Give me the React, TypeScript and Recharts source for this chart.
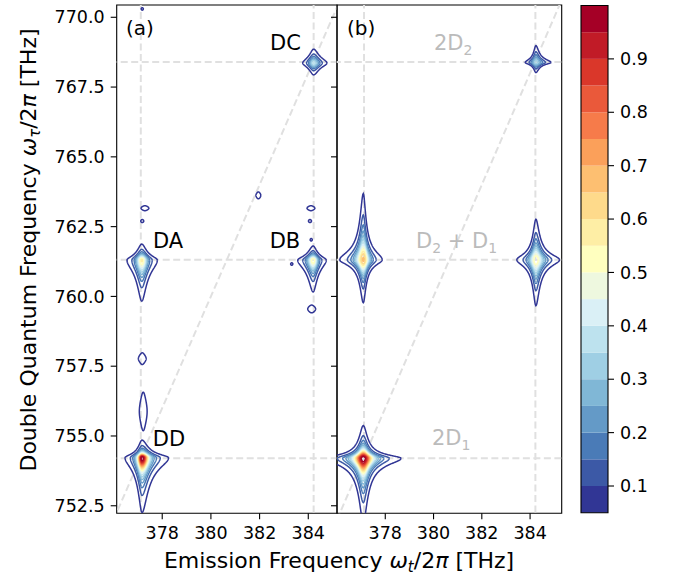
import React from 'react';
import { LineChart, Line, XAxis, YAxis, ReferenceArea } from 'recharts';

// contour levels and their colours (RdYlBu reversed, 19 steps)
const levels = [0.05, 0.1, 0.15, 0.2, 0.25, 0.3, 0.35, 0.4, 0.45, 0.5, 0.55, 0.6, 0.65, 0.7, 0.75, 0.8, 0.85, 0.9, 0.95];
const levelColors = [
  '#313695', '#3c59a6', '#4a7bb7', '#649ac7', '#80b7d6', '#9fcfe4', '#bde2ee', '#daf0f6', '#eef8df', '#ffffbf',
  '#feeea5', '#feda8b', '#fdbf71', '#fba05a', '#f67b4a', '#ea593a', '#da372a', '#c11b27', '#a50026',
];
const cbEdges = [0.05, 0.1, 0.15, 0.2, 0.25, 0.3, 0.35, 0.4, 0.45, 0.5, 0.55, 0.6, 0.65, 0.7, 0.75, 0.8, 0.85, 0.9, 0.95, 1.0];
const cbTicks = [0.1, 0.2, 0.3, 0.4, 0.5, 0.6, 0.7, 0.8, 0.9];

const xTicks = [378, 380, 382, 384];
const yTicks = [752.5, 755, 757.5, 760, 762.5, 765, 767.5, 770];
const xDomainA = [376.13, 385.18];
const xDomainB = [376.0, 385.31];
const yDomain = [752.23, 770.44];

// dashed guides: emission lines, double quantum lines, and y = 2x
const guideX = [377.12, 384.22];
const guideY = [754.2, 761.31, 768.4];
const diagonal = [{ x: 376, y: 752 }, { x: 386, y: 772 }];

type Peak = { x: number; y: number; amp: number; wl: number; wr: number; wd: number; wu: number };

// (a) measured spectrum: centre, height, half widths left / right / down / up
const peaksA: Peak[] = [
  { x: 377.17, y: 754.22, amp: 1.0, wl: 0.16, wr: 0.25, wd: 0.45, wu: 0.145 },   // DD
  { x: 377.16, y: 761.3, amp: 0.56, wl: 0.19, wr: 0.2, wd: 0.46, wu: 0.18 },     // DA
  { x: 384.2, y: 761.3, amp: 0.55, wl: 0.2, wr: 0.17, wd: 0.36, wu: 0.16 },      // DB
  { x: 384.22, y: 768.36, amp: 0.36, wl: 0.18, wr: 0.22, wd: 0.17, wu: 0.2 },    // DC
  { x: 377.18, y: 757.77, amp: 0.1, wl: 0.16, wr: 0.16, wd: 0.21, wu: 0.21 },
  { x: 377.22, y: 755.88, amp: 0.1, wl: 0.16, wr: 0.16, wd: 0.69, wu: 0.69 },
  { x: 377.29, y: 763.16, amp: 0.08, wl: 0.21, wr: 0.21, wd: 0.115, wu: 0.115 },
  { x: 384.11, y: 763.16, amp: 0.08, wl: 0.21, wr: 0.21, wd: 0.115, wu: 0.115 },
  { x: 381.95, y: 763.62, amp: 0.08, wl: 0.13, wr: 0.13, wd: 0.16, wu: 0.16 },
  { x: 384.14, y: 759.55, amp: 0.08, wl: 0.21, wr: 0.21, wd: 0.18, wu: 0.18 },
  { x: 377.18, y: 762.7, amp: 0.06, wl: 0.14, wr: 0.14, wd: 0.12, wu: 0.12 },
  { x: 384.07, y: 762.7, amp: 0.06, wl: 0.14, wr: 0.14, wd: 0.12, wu: 0.12 },
  { x: 384.12, y: 762.03, amp: 0.06, wl: 0.1, wr: 0.1, wd: 0.1, wu: 0.1 },
  { x: 377.18, y: 770.3, amp: 0.06, wl: 0.1, wr: 0.1, wd: 0.1, wu: 0.1 },
  { x: 383.32, y: 761.16, amp: 0.06, wl: 0.1, wr: 0.1, wd: 0.1, wu: 0.1 },
];

// (b) simulated spectrum
const peaksB: Peak[] = [
  { x: 377.09, y: 754.2, amp: 1.0, wl: 0.36, wr: 0.36, wd: 0.53, wu: 0.27 },     // 2D1
  { x: 377.09, y: 761.31, amp: 0.66, wl: 0.28, wr: 0.225, wd: 0.44, wu: 0.68 },  // D2+D1
  { x: 384.24, y: 761.31, amp: 0.55, wl: 0.25, wr: 0.31, wd: 0.52, wu: 0.46 },   // D2+D1
  { x: 384.24, y: 768.38, amp: 0.32, wl: 0.19, wr: 0.27, wd: 0.155, wu: 0.26 },  // 2D2
];

type Pt = { x: number; y: number };

// closed iso-line of a star shaped peak 1/(1+u²+v²+c·u²v²) at a given level
function contour(p: Peak, level: number, c: number): Pt[] | null {
  const k = p.amp / level;
  if (k <= 1.0001) return null;
  const m = Math.sqrt(k - 1);
  const n = 48;
  const q: [number, number][] = [];
  for (let i = 0; i <= n; i++) {
    const a = (m * i) / n;
    const b = Math.sqrt(Math.max((k - 1 - a * a) / (1 + c * a * a), 0));
    q.push([a, b]);
    q.push([b, a]);
  }
  q.sort((s, t) => Math.atan2(s[1], s[0]) - Math.atan2(t[1], t[0]));
  const rq = [...q].reverse();
  const pts: Pt[] = [];
  q.forEach(([u, v]) => pts.push({ x: p.x + u * p.wr, y: p.y + v * p.wu }));
  rq.forEach(([u, v]) => pts.push({ x: p.x - u * p.wl, y: p.y + v * p.wu }));
  q.forEach(([u, v]) => pts.push({ x: p.x - u * p.wl, y: p.y - v * p.wd }));
  rq.forEach(([u, v]) => pts.push({ x: p.x + u * p.wr, y: p.y - v * p.wd }));
  pts.push(pts[0]);
  return pts;
}

const FONT = '"DejaVu Sans", sans-serif';
const GUIDE = '#e0e0e0';
const tickStyle = { fill: '#000', fontSize: 17.5 };

type PanelProps = {
  peaks: Peak[];
  pinch: number;
  xDomain: number[];
  left: number;
  width: number;
  marginLeft: number;
  marginRight: number;
  yAxisWidth: number;
  yLabels: boolean;
};

const Panel = ({ peaks, pinch, xDomain, left, width, marginLeft, marginRight, yAxisWidth, yLabels }: PanelProps) => {
  const lines: React.ReactNode[] = [];
  guideX.forEach((gx, i) =>
    lines.push(
      <Line key={'gx' + i} data={[{ x: gx, y: 750 }, { x: gx, y: 772 }]} dataKey="y" stroke={GUIDE} strokeWidth={2}
        strokeDasharray="7 3.5" dot={false} activeDot={false} isAnimationActive={false} />
    )
  );
  guideY.forEach((gy, i) =>
    lines.push(
      <Line key={'gy' + i} data={[{ x: 375, y: gy }, { x: 386, y: gy }]} dataKey="y" stroke={GUIDE} strokeWidth={2}
        strokeDasharray="7 3.5" dot={false} activeDot={false} isAnimationActive={false} />
    )
  );
  lines.push(
    <Line key="diag" data={diagonal} dataKey="y" stroke={GUIDE} strokeWidth={2}
      strokeDasharray="7 3.5" dot={false} activeDot={false} isAnimationActive={false} />
  );
  levels.forEach((lv, li) =>
    peaks.forEach((p, pi) => {
      const pts = contour(p, lv, pinch);
      if (!pts) return;
      lines.push(
        <Line key={`c${li}-${pi}`} data={pts} dataKey="y" type="linear" stroke={levelColors[li]} strokeWidth={1.5}
          dot={false} activeDot={false} isAnimationActive={false} />
      );
    })
  );

  return (
    <div style={{ position: 'absolute', left, top: 0 }}>
      <LineChart width={width} height={579} margin={{ top: 5, right: marginRight, bottom: 35.7, left: marginLeft }}>
        <XAxis type="number" dataKey="x" domain={xDomain} allowDataOverflow ticks={xTicks} interval={0} height={30}
          axisLine={false} tickSize={6} tickMargin={7} tick={tickStyle} tickLine={{ stroke: '#000', strokeWidth: 1.1 }} />
        <YAxis type="number" domain={yDomain} allowDataOverflow ticks={yTicks} interval={0} width={yAxisWidth}
          axisLine={false} tickSize={6} tickMargin={6} tick={tickStyle} tickLine={{ stroke: '#000', strokeWidth: 1.1 }}
          tickFormatter={(v: number) => (yLabels ? v.toFixed(1) : '')} />
        {lines}
        <ReferenceArea x1={xDomain[0]} x2={xDomain[1]} y1={yDomain[0]} y2={yDomain[1]} fill="none" stroke="#000"
          strokeWidth={1.1} ifOverflow="visible" />
      </LineChart>
    </div>
  );
};

const ColorBar = () => (
  <div style={{ position: 'absolute', left: 575, top: 0 }}>
    <LineChart width={100} height={579} margin={{ top: 5.5, right: 7, bottom: 66.3, left: 6 }}>
      <XAxis type="number" dataKey="x" domain={[0, 1]} hide height={0} />
      <YAxis type="number" orientation="right" domain={[0.05, 1]} ticks={cbTicks} interval={0} width={60}
        axisLine={false} tickSize={6} tickMargin={6} tick={tickStyle} tickLine={{ stroke: '#000', strokeWidth: 1.1 }}
        tickFormatter={(v: number) => v.toFixed(1)} />
      <Line data={[{ x: 0, y: cbEdges[0] }, { x: 1, y: cbEdges[cbEdges.length - 1] }]} dataKey="y" stroke="none"
        dot={false} activeDot={false} isAnimationActive={false} />
      {levelColors.map((c, i) => (
        <ReferenceArea key={i} x1={0} x2={1} y1={cbEdges[i]} y2={cbEdges[i + 1]} fill={c} fillOpacity={1} stroke="none"
          ifOverflow="visible" />
      ))}
      <ReferenceArea x1={0} x2={1} y1={0.05} y2={1} fill="none" stroke="#000" strokeWidth={1.1} ifOverflow="visible" />
    </LineChart>
  </div>
);

const Sub = ({ children, size = 14 }: { children: React.ReactNode; size?: number }) => (
  <tspan fontSize={size} dy={5}>{children}</tspan>
);

const App = () => (
  <div style={{ position: 'absolute', left: 0, top: 0, width: 684, height: 579, background: '#fff', fontFamily: FONT }}>
    <Panel peaks={peaksA} pinch={1.5} xDomain={xDomainA} left={0} width={340} marginLeft={56.7} marginRight={3} yAxisWidth={60} yLabels />
    <Panel peaks={peaksB} pinch={6} xDomain={xDomainB} left={317} width={250} marginLeft={0} marginRight={5.3} yAxisWidth={20} yLabels={false} />
    <ColorBar />
    <svg width={684} height={579} style={{ position: 'absolute', left: 0, top: 0, pointerEvents: 'none' }} fontFamily={FONT}>
      <text x={126} y={35} fontSize={20}>(a)</text>
      <text x={347} y={35} fontSize={20}>(b)</text>
      <text x={285.5} y={50} fontSize={21} textAnchor="middle">DC</text>
      <text x={168} y={248} fontSize={21} textAnchor="middle">DA</text>
      <text x={285} y={248} fontSize={21} textAnchor="middle">DB</text>
      <text x={169} y={446} fontSize={21} textAnchor="middle">DD</text>
      <g fill="#bbbbbb" fontSize={21}>
        <text x={434} y={50}>2D<Sub>2</Sub></text>
        <text x={416} y={248}>D<Sub>2</Sub><tspan dy={-5}> + D</tspan><Sub>1</Sub></text>
        <text x={432} y={445}>2D<Sub>1</Sub></text>
      </g>
      <text x={339} y={568} fontSize={22} textAnchor="middle">
        Emission Frequency <tspan fontStyle="italic">ω</tspan>
        <tspan fontStyle="italic" fontSize={15} dy={4}>t</tspan>
        <tspan dy={-4}>/2</tspan><tspan fontStyle="italic">π</tspan> [THz]
      </text>
      <text x={36} y={250} fontSize={22} textAnchor="middle" transform="rotate(-90 36 250)">
        Double Quantum Frequency <tspan fontStyle="italic">ω</tspan>
        <tspan fontStyle="italic" fontSize={15} dy={4}>τ</tspan>
        <tspan dy={-4}>/2</tspan><tspan fontStyle="italic">π</tspan> [THz]
      </text>
    </svg>
  </div>
);

export default App;
